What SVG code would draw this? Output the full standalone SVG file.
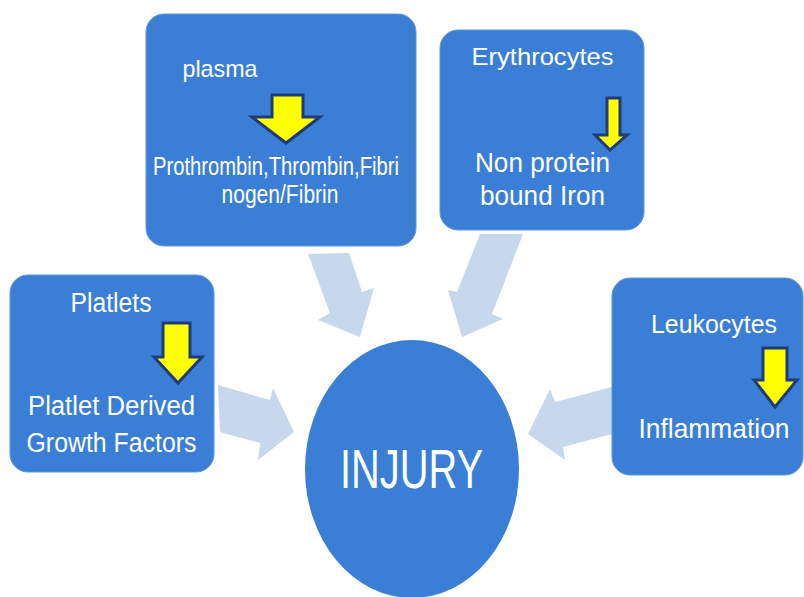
<svg xmlns="http://www.w3.org/2000/svg" width="804" height="597" viewBox="0 0 804 597">
<defs>
<style>
.box{fill:#3a7fd5;stroke:#5f97de;stroke-width:1}
.conn{fill:#c7d7ec}
.ya{fill:#ffff00;stroke:#1f3c78;stroke-width:3;stroke-linejoin:miter}
.t{fill:#ffffff;font-family:"Liberation Sans",Arial,sans-serif;text-anchor:middle}
</style>
</defs>
<rect width="804" height="597" fill="#ffffff"/>
<g id="connectors">
<polygon class="conn" points="308,254 349,253 362,292 374,288 360,337 318,320 330,313"/>
<polygon class="conn" points="480,234 523,234 492,314 503,319 462,337 448,290 457,292"/>
<polygon class="conn" points="218,385 270,400 273,388 294,432 258,460 260,443 220,432"/>
<polygon class="conn" points="612,387 555,402 550,389 528,434 565,460 563,447 612,434"/>
</g>
<g id="plasma">
<rect class="box" x="146" y="14" width="270" height="232" rx="18"/>
<text class="t" x="220" y="77" font-size="24" textLength="75" lengthAdjust="spacingAndGlyphs">plasma</text>
<polygon class="ya" points="272,95 303,95 303,117 320,117 286,143 252,117 272,117"/>
<text class="t" x="276" y="175" font-size="25" textLength="246" lengthAdjust="spacingAndGlyphs">Prothrombin,Thrombin,Fibri</text>
<text class="t" x="280" y="203" font-size="25" textLength="117" lengthAdjust="spacingAndGlyphs">nogen/Fibrin</text>
</g>
<g id="erythrocytes">
<rect class="box" x="440" y="30" width="204" height="200" rx="18"/>
<text class="t" x="542.5" y="65" font-size="24" textLength="142" lengthAdjust="spacingAndGlyphs">Erythrocytes</text>
<polygon class="ya" points="607,98 620,98 620,135 627,135 610,150 595,135 607,135"/>
<text class="t" x="542.5" y="172" font-size="28" textLength="135" lengthAdjust="spacingAndGlyphs">Non protein</text>
<text class="t" x="542.5" y="205" font-size="28" textLength="125" lengthAdjust="spacingAndGlyphs">bound Iron</text>
</g>
<g id="platlets">
<rect class="box" x="10" y="275" width="204" height="197" rx="18"/>
<text class="t" x="111" y="312" font-size="27" textLength="81" lengthAdjust="spacingAndGlyphs">Platlets</text>
<polygon class="ya" points="163,323 190,323 190,357 202,357 178,383 154,357 163,357"/>
<text class="t" x="111.5" y="415" font-size="27" textLength="167" lengthAdjust="spacingAndGlyphs">Platlet Derived</text>
<text class="t" x="111.5" y="452" font-size="27" textLength="170" lengthAdjust="spacingAndGlyphs">Growth Factors</text>
</g>
<g id="leukocytes">
<rect class="box" x="612" y="278" width="191" height="197" rx="18"/>
<text class="t" x="714" y="333" font-size="26" textLength="126" lengthAdjust="spacingAndGlyphs">Leukocytes</text>
<polygon class="ya" points="763,348 787,348 787,380 797,380 775,407 754,380 763,380"/>
<text class="t" x="714" y="438" font-size="28" textLength="151" lengthAdjust="spacingAndGlyphs">Inflammation</text>
</g>
<g id="injury">
<ellipse cx="412" cy="469" rx="107" ry="129" fill="#3a7fd5"/>
<text class="t" x="411.5" y="488" font-size="55" textLength="143" lengthAdjust="spacingAndGlyphs">INJURY</text>
</g>
</svg>
